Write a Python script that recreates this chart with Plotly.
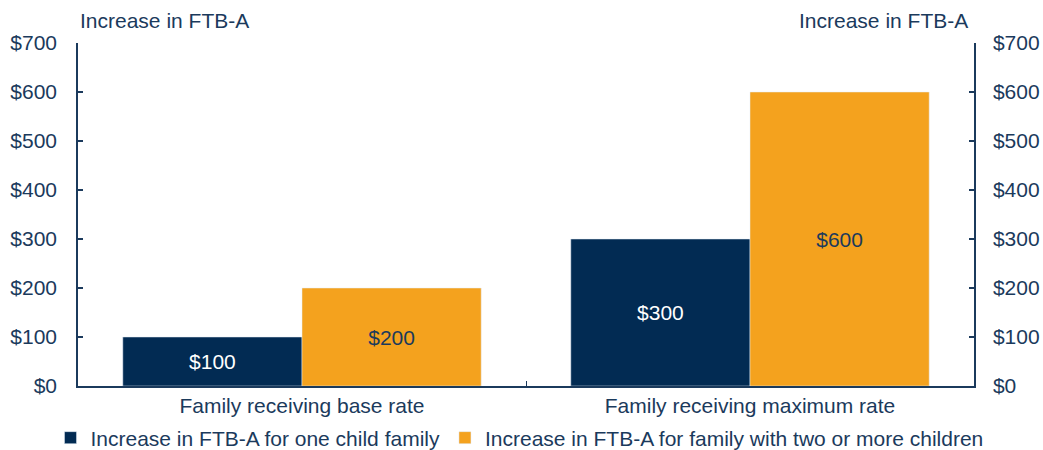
import plotly.graph_objects as go

categories = ["Family receiving base rate", "Family receiving maximum rate"]
one_child = [100, 300]
two_plus = [200, 600]
series_names = ["Increase in FTB-A for one child family",
                "Increase in FTB-A for family with two or more children"]
tick_vals = [0, 100, 200, 300, 400, 500, 600, 700]
tick_text = ["$" + str(v) for v in tick_vals]

NAVY = "#022B53"
ORANGE = "#F4A21E"
TXT = "#1B3A5C"
FONT = "Liberation Sans, Arial, sans-serif"
FS = 21

fig = go.Figure()
fig.add_trace(go.Bar(
    x=categories, y=one_child, name=series_names[0], marker_color=NAVY,
    text=["$" + str(v) for v in one_child], textposition="inside",
    insidetextanchor="middle", textfont=dict(color="white", size=FS, family=FONT),
))
fig.add_trace(go.Bar(
    x=categories, y=two_plus, name=series_names[1], marker_color=ORANGE,
    text=["$" + str(v) for v in two_plus], textposition="inside",
    insidetextanchor="middle", textfont=dict(color=TXT, size=FS, family=FONT),
))
# invisible trace for right axis
fig.add_trace(go.Scatter(x=categories, y=one_child, yaxis="y2", mode="markers",
                         marker=dict(opacity=0), showlegend=False, hoverinfo="skip"))

axis_common = dict(range=[0, 700], tickvals=tick_vals, ticktext=tick_text,
                   showgrid=False, zeroline=False, showline=True, linecolor=TXT,
                   linewidth=1.5, ticks="inside", ticklen=5, tickcolor=TXT, tickwidth=1.5,
                   automargin=False,
                   tickfont=dict(size=FS, color=TXT, family=FONT))

fig.update_layout(
    width=1043, height=450,
    margin=dict(l=78, r=69, t=43, b=64, autoexpand=False),
    paper_bgcolor="white", plot_bgcolor="white",
    barmode="group", bargap=0.2, bargroupgap=0,
    font=dict(family=FONT, color=TXT, size=FS),
    xaxis=dict(showline=True, linecolor=TXT, linewidth=1.5, showgrid=False,
               ticks="inside", tickson="boundaries", ticklen=5, tickcolor=TXT,
               automargin=False,
               tickfont=dict(size=FS, color=TXT, family=FONT)),
    yaxis=dict(**axis_common, side="left", ticklabelstandoff=15),
    yaxis2=dict(**axis_common, overlaying="y", side="right", ticklabelstandoff=13),
    legend=dict(orientation="h", x=-0.0307, xanchor="left",
                y=-0.1516, yanchor="middle",
                font=dict(size=FS, color=TXT, family=FONT), traceorder="normal",
                itemwidth=30, tracegroupgap=0),
    showlegend=True,
    annotations=[
        dict(text="Increase in FTB-A", xref="paper", yref="paper", x=0.0, y=1.0,
             xanchor="left", yanchor="bottom", showarrow=False, yshift=9,
             font=dict(size=FS, color=TXT, family=FONT)),
        dict(text="Increase in FTB-A", xref="paper", yref="paper", x=1.0, y=1.0,
             xanchor="right", yanchor="bottom", showarrow=False, yshift=9, xshift=-4,
             font=dict(size=FS, color=TXT, family=FONT)),
    ],
)
fig.write_html("out.html", config={"displayModeBar": False})
with open("out.html", "r", encoding="utf-8") as f:
    html = f.read()
html = html.replace("<body>", '<body style="margin:0;padding:0;">', 1)
with open("out.html", "w", encoding="utf-8") as f:
    f.write(html)
